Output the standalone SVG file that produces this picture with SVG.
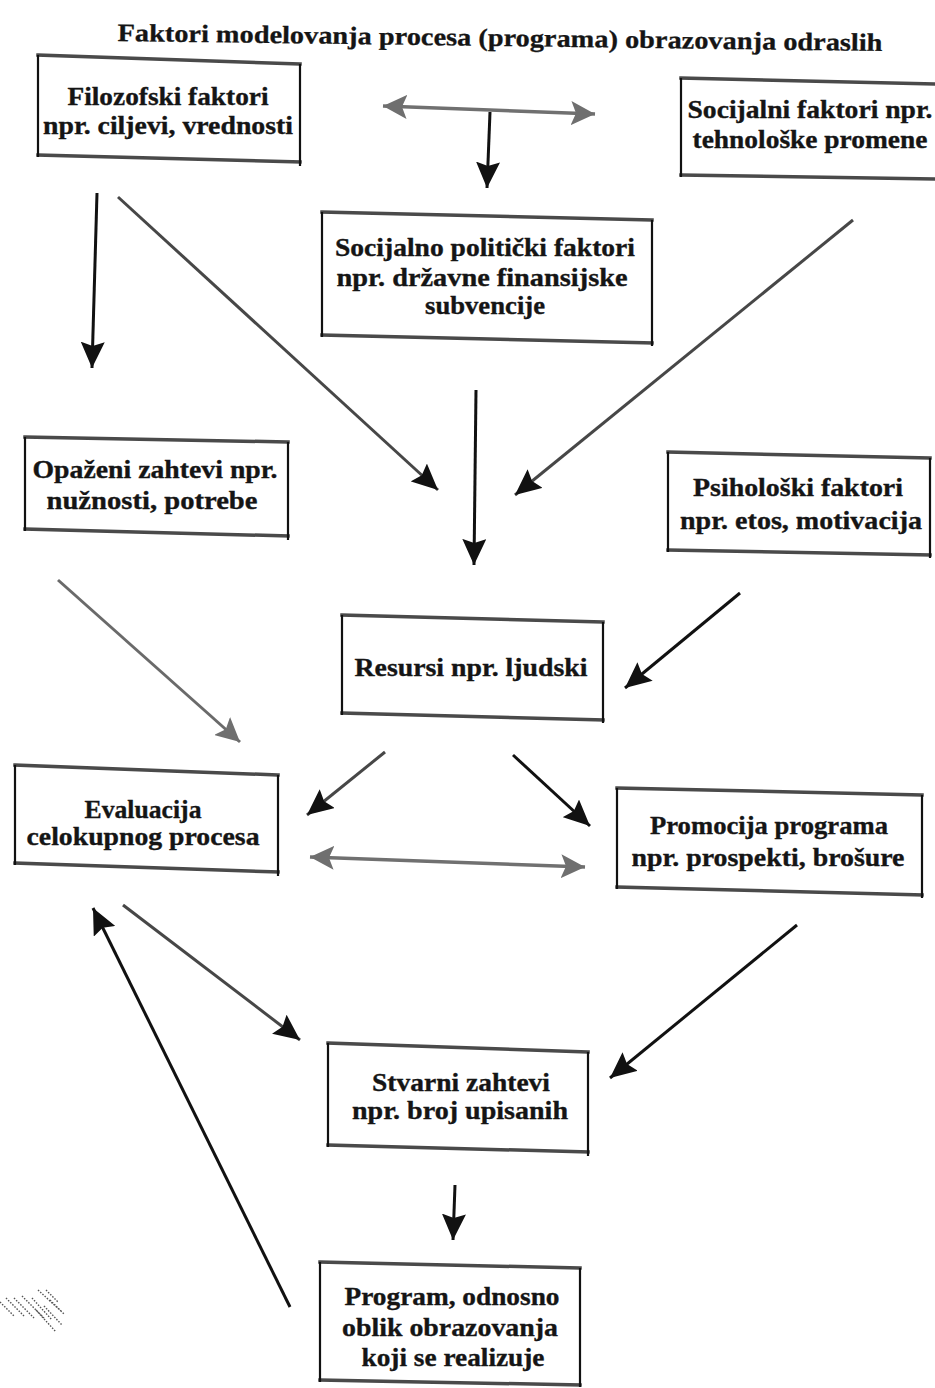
<svg xmlns="http://www.w3.org/2000/svg" width="935" height="1388" viewBox="0 0 935 1388">
  <style>
    .bg { fill: #ffffff; }
    .title { font-family: "Liberation Serif", "DejaVu Serif", serif; font-weight: bold; font-size: 25px; fill: #151515; stroke: #151515; stroke-width: 0.3; }
    .lbl { font-family: "Liberation Serif", "DejaVu Serif", serif; font-weight: bold; font-size: 26px; fill: #151515; stroke: #151515; stroke-width: 0.35; text-anchor: middle; }
    .edge-h { stroke: #4a4a4a; stroke-width: 3.5; fill: none; stroke-linecap: square; }
    .edge-v { stroke: #111111; stroke-width: 2.2; fill: none; }
    .arrow { stroke: #111111; stroke-width: 3; fill: none; marker-end: url(#head); }
    .arrow-dark { stroke: #474747; stroke-width: 3; fill: none; marker-end: url(#head); }
    .arrow-gray { stroke: #6a6a6a; stroke-width: 3; fill: none; marker-end: url(#head-gray); }
    .arrow-both { stroke: #707070; stroke-width: 3.5; fill: none; marker-start: url(#head-gray); marker-end: url(#head-gray); }
    .speck { stroke: #555; stroke-width: 1.4; stroke-dasharray: 1.5 1.5; }
  </style>
  <defs>
    <marker id="head" markerUnits="userSpaceOnUse" markerWidth="28" markerHeight="24" refX="26" refY="12" orient="auto-start-reverse">
      <path d="M0,0 L26,12 L0,24 L4,12 z" fill="#111111"/>
    </marker>
    <marker id="head-gray" markerUnits="userSpaceOnUse" markerWidth="26" markerHeight="24" refX="24" refY="12" orient="auto-start-reverse">
      <path d="M0,0 L24,12 L0,24 L5,12 z" fill="#6f6f6f"/>
    </marker>
  </defs>

  <rect class="bg" x="0" y="0" width="935" height="1388"/>

  <text class="title" x="500" y="46" text-anchor="middle" textLength="765" lengthAdjust="spacingAndGlyphs" transform="rotate(0.75 500 40)">Faktori modelovanja procesa (programa) obrazovanja odraslih</text>

  <!-- Filozofski faktori -->
  <g id="filozofski">
    <path class="edge-h" d="M38,55 L300,64 M38,155 L300,162"/>
    <path class="edge-v" d="M38,55 L38,157 M300,64 L300,166"/>
    <text class="lbl" x="168" y="105" textLength="201" lengthAdjust="spacingAndGlyphs">Filozofski faktori</text>
    <text class="lbl" x="168" y="134" textLength="250" lengthAdjust="spacingAndGlyphs">npr. ciljevi, vrednosti</text>
  </g>

  <!-- Socijalni faktori -->
  <g id="socijalni">
    <path class="edge-h" d="M681,78 L935,84 M681,175 L935,179"/>
    <path class="edge-v" d="M681,78 L681,177"/>
    <text class="lbl" x="810" y="118" textLength="245" lengthAdjust="spacingAndGlyphs">Socijalni faktori npr.</text>
    <text class="lbl" x="810" y="148" textLength="235" lengthAdjust="spacingAndGlyphs">tehnološke promene</text>
  </g>

  <!-- Socijalno politicki faktori -->
  <g id="socijalno-politicki">
    <path class="edge-h" d="M322,212 L652,220 M322,335 L652,343"/>
    <path class="edge-v" d="M322,212 L322,337 M652,220 L652,346"/>
    <text class="lbl" x="485" y="256" textLength="300" lengthAdjust="spacingAndGlyphs">Socijalno politički faktori</text>
    <text class="lbl" x="482" y="286" textLength="291" lengthAdjust="spacingAndGlyphs">npr. državne finansijske</text>
    <text class="lbl" x="485" y="314" textLength="120" lengthAdjust="spacingAndGlyphs">subvencije</text>
  </g>

  <!-- Opazeni zahtevi -->
  <g id="opazeni">
    <path class="edge-h" d="M25,437 L288,442 M25,529 L288,536"/>
    <path class="edge-v" d="M25,437 L25,531 M288,442 L288,540"/>
    <text class="lbl" x="155" y="478" textLength="245" lengthAdjust="spacingAndGlyphs">Opaženi zahtevi npr.</text>
    <text class="lbl" x="152" y="509" textLength="211" lengthAdjust="spacingAndGlyphs">nužnosti, potrebe</text>
  </g>

  <!-- Psiholoski faktori -->
  <g id="psiholoski">
    <path class="edge-h" d="M668,452 L930,458 M668,550 L930,555"/>
    <path class="edge-v" d="M668,452 L668,552 M930,458 L930,558"/>
    <text class="lbl" x="798" y="496" textLength="210" lengthAdjust="spacingAndGlyphs">Psihološki faktori</text>
    <text class="lbl" x="801" y="529" textLength="242" lengthAdjust="spacingAndGlyphs">npr. etos, motivacija</text>
  </g>

  <!-- Resursi -->
  <g id="resursi">
    <path class="edge-h" d="M342,615 L603,622 M342,713 L603,720"/>
    <path class="edge-v" d="M342,615 L342,715 M603,622 L603,723"/>
    <text class="lbl" x="471" y="676" textLength="233" lengthAdjust="spacingAndGlyphs">Resursi npr. ljudski</text>
  </g>

  <!-- Evaluacija -->
  <g id="evaluacija">
    <path class="edge-h" d="M15,765 L278,775 M15,863 L278,872"/>
    <path class="edge-v" d="M15,765 L15,865 M278,775 L278,876"/>
    <text class="lbl" x="143" y="818" textLength="117" lengthAdjust="spacingAndGlyphs">Evaluacija</text>
    <text class="lbl" x="143" y="845" textLength="233" lengthAdjust="spacingAndGlyphs">celokupnog procesa</text>
  </g>

  <!-- Promocija programa -->
  <g id="promocija">
    <path class="edge-h" d="M617,788 L922,795 M617,887 L922,895"/>
    <path class="edge-v" d="M617,788 L617,889 M922,795 L922,898"/>
    <text class="lbl" x="769" y="834" textLength="238" lengthAdjust="spacingAndGlyphs">Promocija programa</text>
    <text class="lbl" x="768" y="866" textLength="273" lengthAdjust="spacingAndGlyphs">npr. prospekti, brošure</text>
  </g>

  <!-- Stvarni zahtevi -->
  <g id="stvarni">
    <path class="edge-h" d="M328,1043 L588,1052 M328,1145 L588,1152"/>
    <path class="edge-v" d="M328,1043 L328,1147 M588,1052 L588,1156"/>
    <text class="lbl" x="461" y="1091" textLength="178" lengthAdjust="spacingAndGlyphs">Stvarni zahtevi</text>
    <text class="lbl" x="460" y="1119" textLength="216" lengthAdjust="spacingAndGlyphs">npr. broj upisanih</text>
  </g>

  <!-- Program -->
  <g id="program">
    <path class="edge-h" d="M320,1262 L580,1268 M320,1380 L580,1385"/>
    <path class="edge-v" d="M320,1262 L320,1382 M580,1268 L580,1387"/>
    <text class="lbl" x="452" y="1305" textLength="215" lengthAdjust="spacingAndGlyphs">Program, odnosno</text>
    <text class="lbl" x="450" y="1336" textLength="216" lengthAdjust="spacingAndGlyphs">oblik obrazovanja</text>
    <text class="lbl" x="453" y="1366" textLength="183" lengthAdjust="spacingAndGlyphs">koji se realizuje</text>
  </g>

  <!-- connectors -->
  <g id="connectors">
    <path class="arrow-both" d="M383,106 L595,114"/>
    <path class="arrow" d="M490,112 L487,188"/>
    <path class="arrow" d="M97,193 L92,368"/>
    <path class="arrow-dark" d="M118,197 L438,490"/>
    <path class="arrow-dark" d="M853,220 L515,495"/>
    <path class="arrow" d="M476,390 L474,565"/>
    <path class="arrow-gray" d="M58,580 L240,742"/>
    <path class="arrow" d="M740,593 L625,688"/>
    <path class="arrow-dark" d="M385,752 L307,815"/>
    <path class="arrow" d="M513,755 L590,826"/>
    <path class="arrow-both" d="M310,857 L585,867"/>
    <path class="arrow-dark" d="M123,905 L300,1040"/>
    <path class="arrow" d="M797,925 L610,1078"/>
    <path class="arrow" d="M290,1307 L93,908"/>
    <path class="arrow" d="M455,1185 L453,1240"/>
  </g>

  <!-- stray hatching in the lower left margin -->
  <g id="hatching">
    <path class="speck" d="M0,1302 L14,1316 M6,1298 L24,1316 M14,1298 L34,1318 M22,1296 L44,1318 M32,1298 L52,1320 M38,1290 L62,1312 M36,1310 L56,1332 M44,1306 L62,1325 M46,1290 L58,1302 M50,1300 L64,1314"/>
  </g>
</svg>
